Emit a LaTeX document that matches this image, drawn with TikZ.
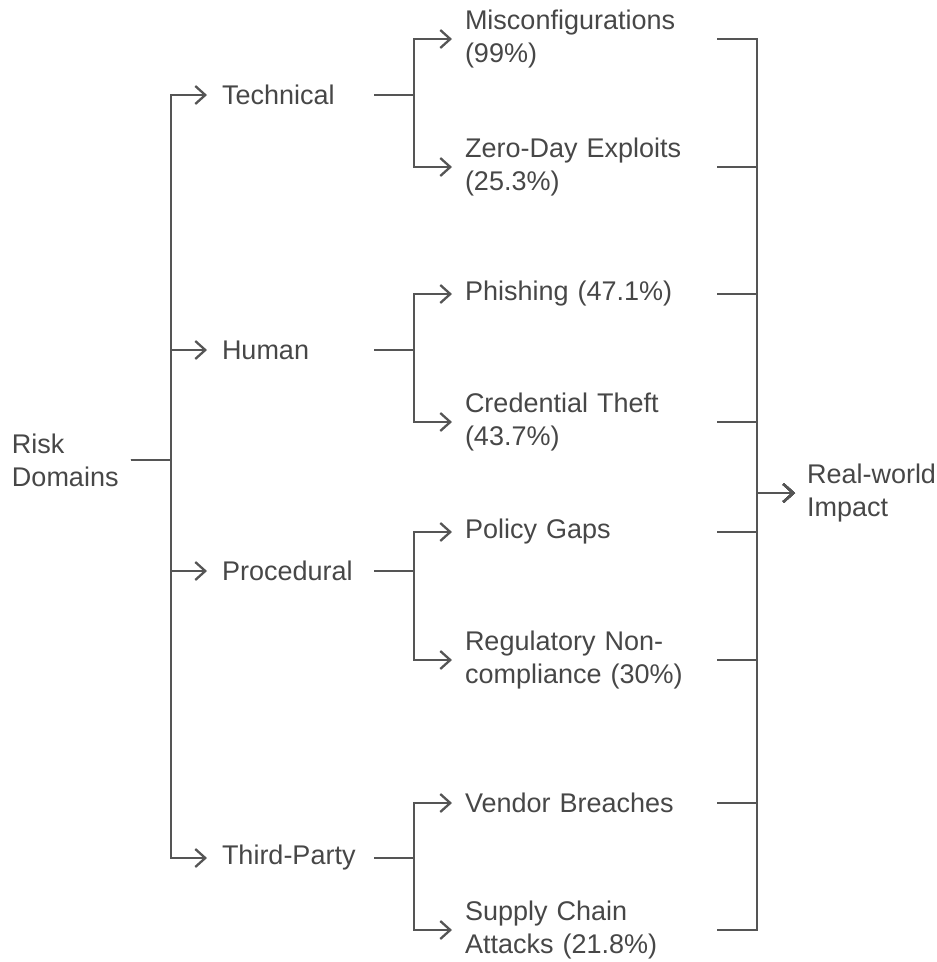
\documentclass[tikz,border=0pt]{standalone}
\usepackage{fontspec}
\setmainfont{Liberation Sans}
\usepackage{xcolor}
\usepackage{tikz}
\usetikzlibrary{arrows.meta,positioning,calc}

\definecolor{inkgray}{HTML}{474747}
\definecolor{linegray}{HTML}{555555}

\begin{document}
\begin{tikzpicture}[
    x=1pt, y=-1pt,
    lbl/.style={anchor=west, align=left, font=\fontsize{27}{33}\selectfont, text=inkgray,
                inner ysep=0pt, outer sep=0pt},
    rootbox/.style={lbl, inner xsep=12pt},
    domainbox/.style={lbl, inner xsep=15pt, text width=137pt},
    leafbox/.style={lbl, inner xsep=13pt, text width=239pt},
    impactbox/.style={lbl, inner xsep=12pt},
    link/.style={draw=linegray, line width=2.3pt},
    arrow/.style={link, -{Straight Barb[length=10pt, width=18pt]}}
]
\useasboundingbox (0,0) rectangle (937,962);

\node[rootbox]   (root)   at (0,460)   {Risk\\Domains};

\node[domainbox] (tech)   at (207,95)  {Technical};
\node[domainbox] (human)  at (207,350) {Human};
\node[domainbox] (proc)   at (207,571) {Procedural};
\node[domainbox] (third)  at (207,858) {Third-Party};

\node[leafbox]   (mis)    at (452,39)  {Misconfigurations\\(99\%)};
\node[leafbox]   (zero)   at (452,167) {Zero-Day Exploits\\(25.3\%)};
\node[leafbox]   (phish)  at (452,294) {Phishing (47.1\%)};
\node[leafbox]   (cred)   at (452,422) {Credential Theft\\(43.7\%)};
\node[leafbox]   (policy) at (452,532) {Policy Gaps};
\node[leafbox]   (regul)  at (452,660) {Regulatory Non-\\compliance (30\%)};
\node[leafbox]   (vendor) at (452,803) {Vendor Breaches};
\node[leafbox]   (supply) at (452,930) {Supply Chain\\Attacks (21.8\%)};

\node[impactbox] (impact) at (795,493) {Real-world\\Impact};

% Bus lines
\coordinate (trunk) at (171,0);
\coordinate (bx)    at (414,0);
\coordinate (cx)    at (757,0);

% Root to domains
\foreach \d in {tech,human,proc,third}
  \draw[arrow] (root.east) -- (trunk |- root.east) |- (\d.west);

% Domains to sub-risks
\draw[arrow] (tech.east) -- (bx |- tech.east) |- (mis.west);
\draw[arrow] (tech.east) -- (bx |- tech.east) |- (zero.west);
\draw[arrow] (human.east) -- (bx |- human.east) |- (phish.west);
\draw[arrow] (human.east) -- (bx |- human.east) |- (cred.west);
\draw[arrow] (proc.east) -- (bx |- proc.east) |- (policy.west);
\draw[arrow] (proc.east) -- (bx |- proc.east) |- (regul.west);
\draw[arrow] (third.east) -- (bx |- third.east) |- (vendor.west);
\draw[arrow] (third.east) -- (bx |- third.east) |- (supply.west);

% Sub-risks to impact
\foreach \s in {mis,zero,phish,cred,policy,regul,vendor,supply}
  \draw[arrow] (\s.east) -| (cx |- impact.west) -- (impact.west);

\end{tikzpicture}
\end{document}
